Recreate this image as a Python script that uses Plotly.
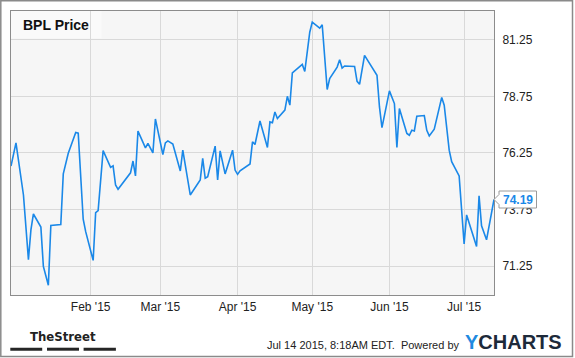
import plotly.graph_objects as go

# ---- data ----
dates = [
    "2014-12-31", "2015-01-02", "2015-01-05", "2015-01-07", "2015-01-08", "2015-01-09",
    "2015-01-12", "2015-01-13", "2015-01-15", "2015-01-16", "2015-01-20", "2015-01-21",
    "2015-01-23", "2015-01-26", "2015-01-27", "2015-01-29", "2015-01-30", "2015-02-02",
    "2015-02-03", "2015-02-04", "2015-02-06", "2015-02-09", "2015-02-10", "2015-02-11",
    "2015-02-12", "2015-02-17", "2015-02-18", "2015-02-19", "2015-02-20", "2015-02-23",
    "2015-02-24", "2015-02-26", "2015-02-27", "2015-03-02", "2015-03-03", "2015-03-04",
    "2015-03-06", "2015-03-09", "2015-03-10", "2015-03-13", "2015-03-17", "2015-03-18",
    "2015-03-19", "2015-03-20", "2015-03-23", "2015-03-24", "2015-03-25", "2015-03-27",
    "2015-03-30", "2015-03-31", "2015-04-01", "2015-04-02", "2015-04-06", "2015-04-07",
    "2015-04-08", "2015-04-10", "2015-04-13", "2015-04-14", "2015-04-15", "2015-04-16",
    "2015-04-17", "2015-04-20", "2015-04-21", "2015-04-22", "2015-04-23", "2015-04-27",
    "2015-04-28", "2015-04-29", "2015-04-30", "2015-05-01", "2015-05-04", "2015-05-05",
    "2015-05-07", "2015-05-08", "2015-05-11", "2015-05-12", "2015-05-13", "2015-05-14",
    "2015-05-18", "2015-05-19", "2015-05-20", "2015-05-22", "2015-05-27", "2015-05-28",
    "2015-05-29", "2015-06-01", "2015-06-03", "2015-06-04", "2015-06-05", "2015-06-08",
    "2015-06-09", "2015-06-10", "2015-06-11", "2015-06-12", "2015-06-15", "2015-06-16",
    "2015-06-17", "2015-06-19", "2015-06-22", "2015-06-23", "2015-06-25", "2015-06-26",
    "2015-06-29", "2015-07-01", "2015-07-02", "2015-07-06", "2015-07-07", "2015-07-08",
    "2015-07-10", "2015-07-13",
]
prices = [
    75.67, 76.69, 74.39, 71.53, 72.85, 73.55,
    72.97, 71.23, 70.40, 73.04, 73.08, 75.32,
    76.23, 77.15, 77.12, 73.32, 72.77, 71.50,
    73.61, 73.70, 76.35, 75.61, 75.68, 74.83,
    74.64, 75.37, 75.89, 75.23, 77.21, 76.47,
    76.67, 76.25, 77.75, 76.18, 76.69, 76.78,
    76.64, 75.45, 76.37, 74.39, 75.05, 76.01,
    75.13, 75.20, 76.55, 75.05, 76.34, 75.32,
    76.37, 75.49, 75.30, 75.46, 75.76, 76.74,
    76.62, 77.66, 76.49, 77.62, 77.58, 78.06,
    77.77, 78.14, 78.75, 78.36, 79.78, 80.16,
    79.85, 80.63, 81.58, 82.03, 81.76, 81.91,
    79.05, 79.53, 80.04, 80.37, 80.00, 80.09,
    80.07, 79.41, 79.28, 80.56, 79.68, 78.28,
    77.37, 78.99, 78.43, 76.49, 78.21, 77.11,
    77.03, 77.25, 77.22, 77.87, 77.90, 77.25,
    77.00, 77.30, 78.70, 78.36, 76.37, 75.86,
    75.23, 72.23, 73.51, 72.11, 74.35, 73.03,
    72.41, 74.19,
]
y_ticks = [71.25, 73.75, 76.25, 78.75, 81.25]
x_tick_dates = ["2015-02-01", "2015-03-01", "2015-04-01", "2015-05-01", "2015-06-01", "2015-07-01"]
x_tick_labels = ["Feb '15", "Mar '15", "Apr '15", "May '15", "Jun '15", "Jul '15"]
title = "BPL Price"
last_label = "74.19"
timestamp = "Jul 14 2015, 8:18AM EDT.  Powered by"

BLUE = "#1a88e8"
FONT = "Liberation Sans, Arial, sans-serif"

# plot area in pixels: x 11..494, y 11..295
L, R, T, B = 11, 81, 11, 63
W, H = 575, 358
PW, PH = W - L - R, H - T - B


def px(x):
    return (x - L) / PW


def py(y):
    return (H - B - y) / PH


fig = go.Figure()
fig.add_trace(go.Scatter(
    x=dates, y=prices, mode="lines",
    line=dict(color=BLUE, width=1.6), hoverinfo="skip", showlegend=False,
))

shapes = [
    # title backdrop
    dict(type="rect", xref="paper", yref="paper", x0=px(11), x1=px(101.5), y0=py(38.3), y1=py(11),
         fillcolor="#fafafa", line=dict(width=0), layer="below"),
    # outer frame
    dict(type="rect", xref="paper", yref="paper", x0=px(0.8), x1=px(572.5), y0=py(356.5), y1=py(0.8),
         line=dict(color="#8a8a8a", width=1.5), fillcolor="rgba(0,0,0,0)"),
    # callout for last value
    dict(type="path", xref="paper", yref="y", xsizemode="pixel", ysizemode="pixel",
         xanchor=1.0, yanchor=prices[-1],
         path="M 0 0 L 5 5 L 5 8.5 L 42.5 8.5 L 42.5 -8.5 L 5 -8.5 L 5 -5 Z",
         fillcolor="white", line=dict(color="#9a9a9a", width=1)),
]
# TheStreet bars
for x0, x1 in [(10.3, 42.2), (47, 79), (83.6, 115.9)]:
    shapes.append(dict(type="rect", xref="paper", yref="paper", x0=px(x0), x1=px(x1),
                       y0=py(350.7), y1=py(347.7), fillcolor="#262626", line=dict(width=0)))

annotations = [
    dict(text=f"<b>{title}</b>", xref="paper", yref="paper", x=px(21), y=py(24.5),
         xanchor="left", yanchor="middle", showarrow=False,
         font=dict(family=FONT, size=14, color="#111")),
    dict(text=f"<b>{last_label}</b>", xref="paper", yref="y", x=1.0, y=prices[-1],
         xanchor="center", yanchor="middle", xshift=24, showarrow=False,
         font=dict(family=FONT, size=12, color=BLUE)),
    dict(text="<b>TheStreet</b>", xref="paper", yref="paper", x=px(63.3), y=py(336),
         xanchor="center", yanchor="middle", showarrow=False,
         font=dict(family="Liberation Sans Narrow, DejaVu Sans Condensed, Arial Narrow, Arial", size=13, color="#222")),
    dict(text=timestamp, xref="paper", yref="paper", x=px(461), y=py(344.5),
         xanchor="right", yanchor="middle", showarrow=False,
         font=dict(family=FONT, size=11, color="#222")),
    dict(text="<b><span style='color:#1f8ae0'>Y</span>CHARTS</b>", xref="paper", yref="paper",
         x=px(463), y=py(342), xanchor="left", yanchor="middle", showarrow=False,
         font=dict(family=FONT, size=20, color="#1d2a3a")),
]

fig.update_layout(
    width=W, height=H,
    margin=dict(l=L, r=R, t=T, b=B, pad=0),
    paper_bgcolor="white", plot_bgcolor="#f6f6f6",
    font=dict(family=FONT, size=12, color="#222"),
    showlegend=False,
    shapes=shapes, annotations=annotations,
    xaxis=dict(
        type="date", range=["2014-12-31", "2015-07-13"],
        tickvals=x_tick_dates, ticktext=x_tick_labels,
        showgrid=True, gridcolor="#d9d9d9", gridwidth=1,
        showline=True, linecolor="#8c8c8c", linewidth=1, mirror=True,
        ticks="", ticklabelstandoff=1, zeroline=False,
        tickfont=dict(family=FONT, size=12, color="#222"),
    ),
    yaxis=dict(
        range=[69.97, 82.52], side="right",
        tickvals=y_ticks, ticktext=[f"{v:.2f}" for v in y_ticks],
        showgrid=True, gridcolor="#d9d9d9", gridwidth=1,
        showline=True, linecolor="#8c8c8c", linewidth=1, mirror=True,
        ticks="", ticklabelstandoff=5, zeroline=False,
        tickfont=dict(family=FONT, size=12, color="#222"),
    ),
)

fig.write_html(
    "out.html",
    config={"displayModeBar": False},
    post_script="document.body.style.margin='0px';document.body.style.overflow='hidden';",
)
